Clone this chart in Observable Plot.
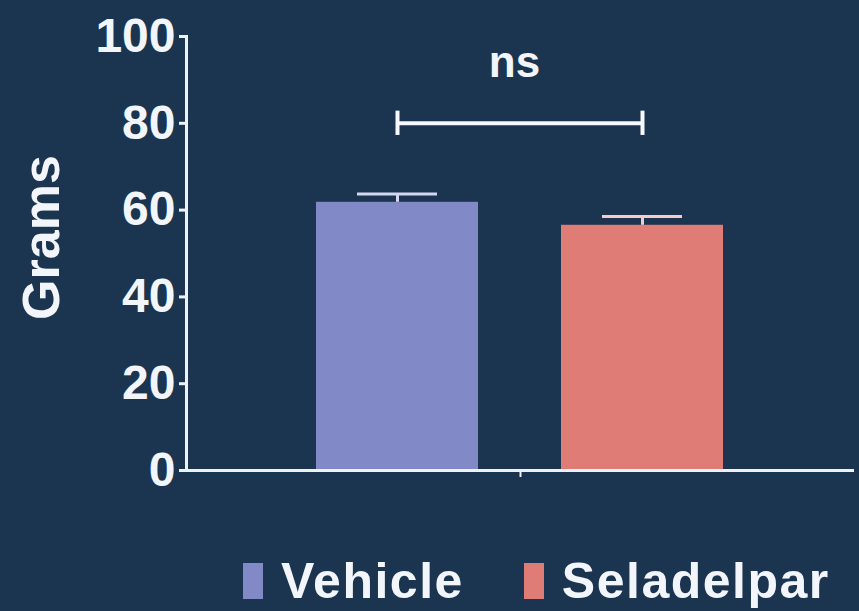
<!DOCTYPE html>
<html>
<head>
<meta charset="utf-8">
<script src="https://cdn.jsdelivr.net/npm/d3@7"></script>
<script src="https://cdn.jsdelivr.net/npm/@observablehq/plot@0.6"></script>
<style>
  html, body { margin: 0; padding: 0; background: #1b3550; width: 859px; height: 611px; overflow: hidden; }
  #chart svg { display: block; }
  .legend { display: flex; align-items: center; margin-top: 26px; padding-left: 243px; line-height: 50px;
    font-family: "Liberation Sans", Arial, sans-serif; font-weight: bold; font-size: 50px; letter-spacing: 1.5px; color: #f2f5f9; }
  .legend .sw { width: 20px; height: 36px; margin-right: 18px; }
  .legend .item { display: flex; align-items: center; margin-right: 60px; }
</style>
</head>
<body>
<div id="chart"></div>
<script>
const categories = ["Vehicle", "Seladelpar"];
const means = [61.8, 56.5];
const sems = [1.9, 2.0];
const yTicks = [0, 20, 40, 60, 80, 100];
const barColors = ["#8189c6", "#e07c76"];
const errColors = ["#d4d7f0", "#f4cbc6"];
const sigY = [80];
const sigLabel = ["ns"];
const sigLabelY = [94];
const yLabel = "Grams";
const group = "";

const rows = categories.map((c, i) => ({group, category: c, mean: means[i], sem: sems[i], err: errColors[i]}));
const capHalf = 2.8;

const plot = Plot.plot({
  width: 859,
  height: 530,
  marginLeft: 186,
  marginRight: 5,
  marginTop: 36,
  marginBottom: 60,
  style: {background: "transparent", color: "#f2f5f9", fontFamily: "Liberation Sans, Arial, sans-serif", fontWeight: "bold", overflow: "visible"},
  fx: {domain: [group], padding: 0, axis: null},
  x: {domain: categories, paddingInner: 0.337, paddingOuter: 0.5265, axis: null},
  y: {domain: [0, 100], axis: null},
  color: {domain: categories, range: barColors},
  marks: [
    Plot.barY(rows, {fx: "group", x: "category", y: "mean", fill: "category"}),
    Plot.ruleX(rows, {fx: "group", x: "category", y1: "mean", y2: d => d.mean + d.sem, stroke: "err", strokeWidth: 3}),
    Plot.tickY(rows, {fx: "group", x: "category", y: d => d.mean + d.sem, stroke: "err", strokeWidth: 3, insetLeft: 41, insetRight: 41}),
    Plot.frame({anchor: "left", stroke: "#eef2f7", strokeWidth: 3}),
    Plot.ruleY([0], {stroke: "#eef2f7", strokeWidth: 3}),
    Plot.axisY({ticks: yTicks, tickSize: 7, tickPadding: 4, fontSize: 48, label: null, stroke: "#eef2f7", strokeWidth: 3, tickFormat: d => String(d)}),
    Plot.axisFx({anchor: "bottom", tickSize: 7, tickFormat: () => "", label: null, stroke: "#eef2f7", strokeWidth: 2}),
    Plot.link(sigY, {fx: () => group, x1: () => categories[0], x2: () => categories[1], y1: d => d, y2: d => d, stroke: "#f7f9fc", strokeWidth: 4}),
    Plot.ruleX(categories, {fx: () => group, x: d => d, y1: () => sigY[0] - capHalf, y2: () => sigY[0] + capHalf, stroke: "#f7f9fc", strokeWidth: 4}),
    Plot.text(sigLabel, {fx: () => group, text: d => d, y: (d, i) => sigLabelY[i], dx: -6, fontSize: 44, fontWeight: "bold", fill: "#f2f5f9"}),
    Plot.text([yLabel], {fx: () => group, text: d => d, frameAnchor: "left", textAnchor: "middle", rotate: -90, dx: -144, dy: -16, fontSize: 52, fontWeight: "bold", fill: "#f2f5f9"})
  ]
});
document.getElementById("chart").appendChild(plot);

const legend = document.createElement("div");
legend.className = "legend";
categories.forEach((c, i) => {
  const item = document.createElement("div");
  item.className = "item";
  const sw = document.createElement("div");
  sw.className = "sw";
  sw.style.background = barColors[i];
  const t = document.createElement("span");
  t.textContent = c;
  item.appendChild(sw);
  item.appendChild(t);
  legend.appendChild(item);
});
document.body.appendChild(legend);
</script>
</body>
</html>
